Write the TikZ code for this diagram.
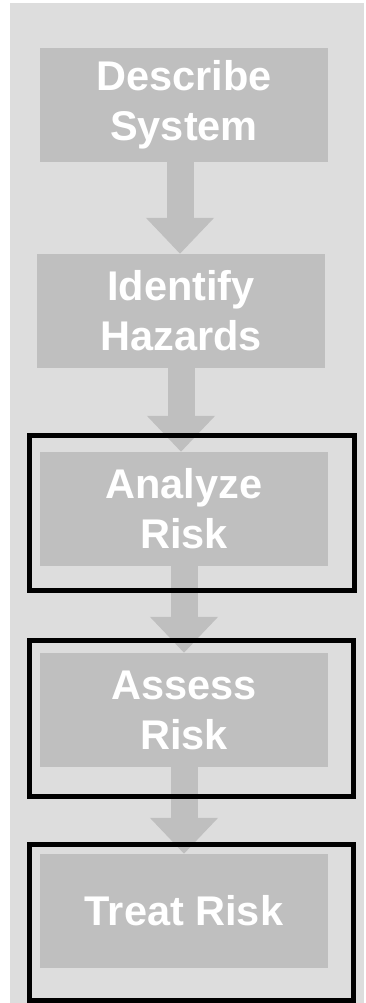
\documentclass[tikz,border=0pt]{standalone}
\usepackage{fontspec}
\setmainfont{Liberation Sans}
\usetikzlibrary{arrows.meta,positioning}

\definecolor{panelgray}{HTML}{DDDDDD}
\definecolor{boxgray}{HTML}{BFBFBF}

\begin{document}
\begin{tikzpicture}[x=1pt,y=1pt,node distance=201pt,on grid]
            \tikzstyle{stage}=[fill=boxgray, text=white, inner sep=0pt,
                minimum width=288pt, minimum height=114pt, align=center,
                font=\bfseries\fontsize{41.5}{50}\selectfont]
            \tikzstyle{flow}=[draw=boxgray, line width=27pt,
                -{Triangle[width=66pt,length=36pt]}, shorten <=-1pt]
            \tikzstyle{frame}=[draw=black, line width=5pt]

            \useasboundingbox (0,0) rectangle (365,-1003);
            \fill[panelgray] (10,-3) rectangle (364,-1003);

            \node[stage] (ds) at (184,-105) {Describe\\System};
            \node[stage] (ih) [below=206pt of ds, xshift=-3pt] {Identify\\Hazards};
            \node[stage] (ar) [below=198pt of ih, xshift=3pt] {Analyze\\Risk};
            \node[stage] (as) [below=of ar] {Assess\\Risk};
            \node[stage] (tr) [below=of as] {Treat Risk};

            \draw[flow] ([xshift=-4pt]ds.south) -- ([xshift=-4pt]ds.south |- ih.north);
            \draw[flow] (ih.south) -- (ih.south |- ar.north);
            \draw[flow] (ar.south) -- (ar.south |- as.north);
            \draw[flow] (as.south) -- (as.south |- tr.north);

            % boxes round the last three stages
            \draw[frame] (29.5,-435.5) rectangle (354.5,-590.5);
            \draw[frame] (29.5,-640.5) rectangle (353.5,-796.5);
            \draw[frame] (29.5,-844.5) rectangle (353.5,-1000.5);
        \end{tikzpicture}
\end{document}
